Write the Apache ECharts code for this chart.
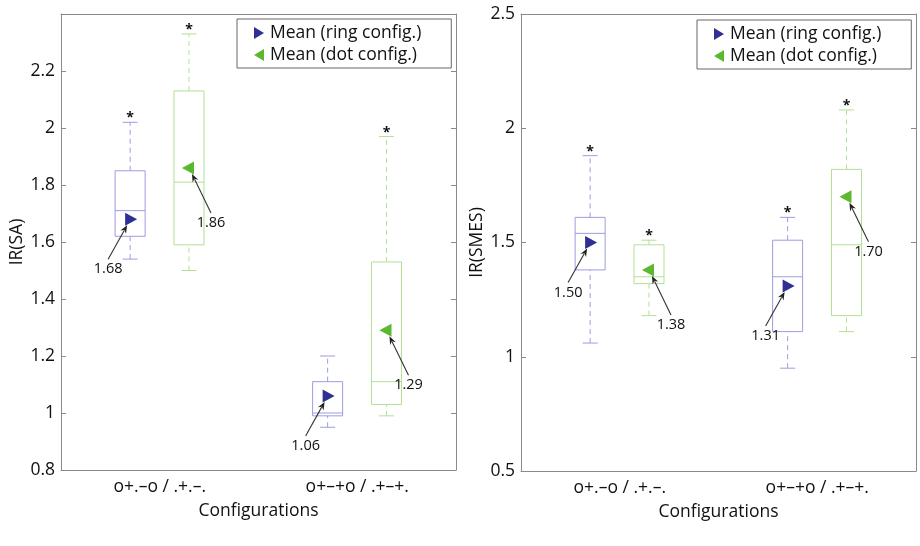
<!DOCTYPE html>
<html><head><meta charset="utf-8">
<script src="https://cdn.jsdelivr.net/npm/echarts@6/dist/echarts.min.js"></script>
<style>html,body{margin:0;padding:0;background:#fff}#c{width:920px;height:546px}</style>
</head><body><div id="c"></div>
<script>
// ---- data ----
const categories = ['o+.\u2013o / .+.\u2013.', 'o+\u2013+o / .+\u2013+.'];
// box stats: [lowerWhisker, q1, median, q3, upperWhisker]
const saRing = [[1.54, 1.62, 1.71, 1.85, 2.02], [0.95, 0.99, 1.00, 1.11, 1.20]];
const saDot  = [[1.50, 1.59, 1.81, 2.13, 2.33], [0.99, 1.03, 1.11, 1.53, 1.97]];
const saRingMean = [1.68, 1.06];
const saDotMean  = [1.86, 1.29];
const saRingStar = [1, 0];
const saDotStar  = [1, 1];
const smesRing = [[1.06, 1.38, 1.54, 1.61, 1.88], [0.95, 1.11, 1.35, 1.51, 1.61]];
const smesDot  = [[1.18, 1.32, 1.35, 1.49, 1.51], [1.11, 1.18, 1.49, 1.82, 2.08]];
const smesRingMean = [1.50, 1.31];
const smesDotMean  = [1.38, 1.70];
const smesRingStar = [1, 1];
const smesDotStar  = [1, 1];
const yNames = ['IR(SA)', 'IR(SMES)'];
const xName = 'Configurations';
const legendNames = ['Mean (ring config.)', 'Mean (dot config.)'];

// ---- styles ----
const FONT = 'Open Sans';
const FS = 17.5;
const RING_BOX = '#9c9ce2', DOT_BOX = '#b2e096';
const RING_MK = '#2e3192', DOT_MK = '#5cb82e';
const AXIS_C = '#8a8a8a';
const RING_OFF = -0.15, DOT_OFF = 0.148, BOX_W = 0.152;
const RING_ICON = 'path://M0,0L10,6L0,12Z';
const DOT_ICON = 'path://M10,0L0,6L10,12Z';

function boxRender(off, color) {
  return function (params, api) {
    const ci = api.value(0);
    const band = api.size([1, 0])[0];
    const cx = api.coord([ci, 0])[0] + off * band;
    const w = BOX_W * band;
    const y = [1, 2, 3, 4, 5].map(k => api.coord([ci, api.value(k)])[1]);
    const star = api.value(6);
    const ls = { stroke: color, lineWidth: 1, fill: null };
    const dash = { stroke: color, lineWidth: 1, lineDash: [5, 4] };
    const ch = [
      { type: 'line', shape: { x1: cx, y1: y[3], x2: cx, y2: y[4] }, style: dash },
      { type: 'line', shape: { x1: cx, y1: y[0], x2: cx, y2: y[1] }, style: dash },
      { type: 'line', shape: { x1: cx - w / 4, y1: y[4], x2: cx + w / 4, y2: y[4] }, style: ls },
      { type: 'line', shape: { x1: cx - w / 4, y1: y[0], x2: cx + w / 4, y2: y[0] }, style: ls },
      { type: 'rect', shape: { x: cx - w / 2, y: y[3], width: w, height: y[1] - y[3] }, style: ls },
      { type: 'line', shape: { x1: cx - w / 2, y1: y[2], x2: cx + w / 2, y2: y[2] }, style: ls }
    ];
    if (star) ch.push({ type: 'text', style: { text: '*', x: cx, y: y[4] - 4, align: 'center', verticalAlign: 'middle', fill: '#111', font: 'bold 14px ' + FONT } });
    return { type: 'group', children: ch };
  };
}

function meanRender(off, color, right) {
  return function (params, api) {
    const ci = api.value(0), v = api.value(1);
    const band = api.size([1, 0])[0];
    const p = api.coord([ci, v]);
    const cx = p[0] + off * band, cy = p[1];
    const pts = right ? [[cx - 5, cy - 6.5], [cx + 7, cy], [cx - 5, cy + 6.5]] : [[cx + 5, cy - 6.5], [cx - 7, cy], [cx + 5, cy + 6.5]];
    const s = right ? -1 : 1;
    const tx = cx + s * 22, ty = cy + (right ? 50 : 55);
    const ax1 = cx + s * 22, ay1 = cy + (right ? 40 : 45);
    const ax2 = cx + s * 3, ay2 = cy + 6;
    const dx = ax2 - ax1, dy = ay2 - ay1, L = Math.sqrt(dx * dx + dy * dy);
    const ux = dx / L, uy = dy / L;
    const hl = 8, hw = 3.2;
    const bx = ax2 - ux * hl, by = ay2 - uy * hl;
    return { type: 'group', children: [
      { type: 'polygon', shape: { points: pts }, style: { fill: color } },
      { type: 'line', shape: { x1: ax1, y1: ay1, x2: bx + ux * 2, y2: by + uy * 2 }, style: { stroke: '#333', lineWidth: 1.1 } },
      { type: 'polygon', shape: { points: [[ax2, ay2], [bx - uy * hw, by + ux * hw], [bx + ux * 2.5, by + uy * 2.5], [bx + uy * hw, by - ux * hw]] }, style: { fill: '#222' } },
      { type: 'text', style: { text: v.toFixed(2), x: tx, y: ty, align: 'center', verticalAlign: 'middle', fill: '#111', font: '14.5px ' + FONT } }
    ] };
  };
}

const grids = [
  { left: 61, right: 464, top: 14, bottom: 76 },
  { left: 521, right: 4, top: 14, bottom: 75 }
];
const yRanges = [{ min: 0.8, max: 2.4, interval: 0.2, hideMax: true }, { min: 0.5, max: 2.5, interval: 0.5, hideMax: false }];
const sets = [
  { ring: saRing, dot: saDot, rm: saRingMean, dm: saDotMean, rs: saRingStar, ds: saDotStar },
  { ring: smesRing, dot: smesDot, rm: smesRingMean, dm: smesDotMean, rs: smesRingStar, ds: smesDotStar }
];

const xAxis = [], yAxis = [], series = [], legend = [];
grids.forEach((g, gi) => {
  xAxis.push({
    type: 'category', gridIndex: gi, data: categories, position: 'bottom',
    name: xName, nameLocation: 'middle', nameGap: 32,
    nameTextStyle: { fontFamily: FONT, fontSize: FS, color: '#111' },
    axisLine: { lineStyle: { color: AXIS_C } },
    axisTick: { inside: true, alignWithLabel: true, length: 5, lineStyle: { color: AXIS_C } },
    axisLabel: { fontFamily: FONT, fontSize: FS, color: '#111', margin: 8 },
    splitLine: { show: false }
  });
  xAxis.push({
    type: 'category', gridIndex: gi, data: categories, position: 'top',
    axisLine: { lineStyle: { color: AXIS_C } },
    axisTick: { inside: true, alignWithLabel: true, length: 5, lineStyle: { color: AXIS_C } },
    axisLabel: { show: false }, splitLine: { show: false }
  });
  const r = yRanges[gi];
  yAxis.push({
    type: 'value', gridIndex: gi, min: r.min, max: r.max, interval: r.interval,
    name: yNames[gi], nameLocation: 'middle', nameGap: 33, nameRotate: 90,
    nameTextStyle: { fontFamily: FONT, fontSize: FS, color: '#111' },
    axisLine: { show: true, lineStyle: { color: AXIS_C } },
    axisTick: { show: true, inside: true, length: 5, lineStyle: { color: AXIS_C } },
    axisLabel: { fontFamily: FONT, fontSize: FS, color: '#111', margin: 6, showMaxLabel: !r.hideMax },
    splitLine: { show: false }
  });
  yAxis.push({
    type: 'value', gridIndex: gi, min: r.min, max: r.max, interval: r.interval, position: 'right',
    axisLine: { show: true, lineStyle: { color: AXIS_C } },
    axisTick: { show: true, inside: true, length: 5, lineStyle: { color: AXIS_C } },
    axisLabel: { show: false }, splitLine: { show: false }
  });
  const s = sets[gi];
  const xi = gi * 2, yi = gi * 2;
  series.push({
    type: 'custom', name: 'ringBox', xAxisIndex: xi, yAxisIndex: yi,
    renderItem: boxRender(RING_OFF, RING_BOX), encode: { x: 0, y: [1, 2, 3, 4, 5] },
    data: s.ring.map((d, i) => [i, ...d, s.rs[i]]), silent: true
  });
  series.push({
    type: 'custom', name: 'dotBox', xAxisIndex: xi, yAxisIndex: yi,
    renderItem: boxRender(DOT_OFF, DOT_BOX), encode: { x: 0, y: [1, 2, 3, 4, 5] },
    data: s.dot.map((d, i) => [i, ...d, s.ds[i]]), silent: true
  });
  series.push({
    type: 'custom', name: legendNames[0], xAxisIndex: xi, yAxisIndex: yi, z: 5,
    itemStyle: { color: RING_MK },
    renderItem: meanRender(RING_OFF, RING_MK, true), encode: { x: 0, y: 1 },
    data: s.rm.map((v, i) => [i, v]), silent: true
  });
  series.push({
    type: 'custom', name: legendNames[1], xAxisIndex: xi, yAxisIndex: yi, z: 5,
    itemStyle: { color: DOT_MK },
    renderItem: meanRender(DOT_OFF, DOT_MK, false), encode: { x: 0, y: 1 },
    data: s.dm.map((v, i) => [i, v]), silent: true
  });
  legend.push({
    left: gi === 0 ? 237 : 697, top: gi === 0 ? 19 : 20, orient: 'vertical',
    backgroundColor: '#fff', borderColor: '#666', borderWidth: 1, borderRadius: 0,
    padding: [4, 30, 3, 17], itemGap: 2, itemWidth: 12, itemHeight: 12,
    selectedMode: false,
    textStyle: { fontFamily: FONT, fontSize: FS, color: '#111', lineHeight: 20 },
    data: [
      { name: legendNames[0], icon: RING_ICON, itemStyle: { color: RING_MK } },
      { name: legendNames[1], icon: DOT_ICON, itemStyle: { color: DOT_MK } }
    ]
  });
});

const chart = echarts.init(document.getElementById('c'), null, { renderer: 'canvas' });
chart.setOption({
  animation: false, backgroundColor: '#fff',
  grid: grids.map(g => Object.assign({ show: false }, g)),
  xAxis, yAxis, series, legend
});
</script></body></html>
